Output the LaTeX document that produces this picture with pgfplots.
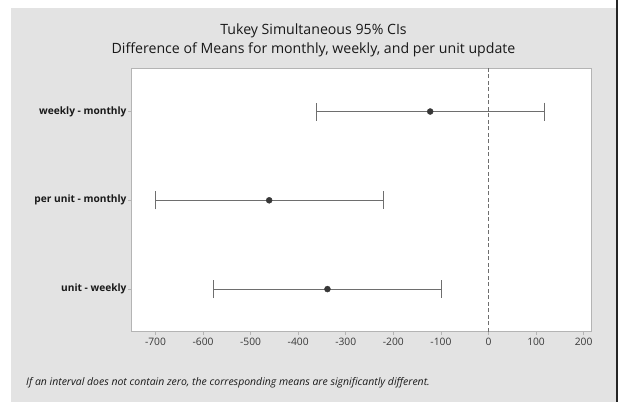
\documentclass[border=0pt]{standalone}
\usepackage{fontspec}
\setmainfont{Open Sans}
\usepackage{pgfplots}
\usepackage{pgfplotstable}
\pgfplotsset{compat=1.18}

\definecolor{panel}{RGB}{227,227,227}
\definecolor{frame}{RGB}{180,180,180}
\definecolor{barcol}{RGB}{110,110,110}
\definecolor{dotcol}{RGB}{55,55,55}
\definecolor{ticktext}{RGB}{55,55,55}
\definecolor{labeltext}{RGB}{25,25,25}

% difference of means with the half-width of each Tukey interval
\pgfplotstableread{
y   diff    half
3   -122.5  239.5
2   -461.0  239.5
1   -338.5  239.5
}\cidata

\begin{document}
\begin{tikzpicture}
  \begin{scope}[x=1bp,y=1bp]
    \path[use as bounding box] (0,0) rectangle (618,-402);
    \fill[white] (0,0) rectangle (618,-402);
    \fill[panel] (11,-8) rectangle (616,-402);
    \draw[black!85, line width=1.6bp] (617.2,0) -- (617.2,-402);

    \node[font=\fontsize{14.2}{16}\selectfont, text=labeltext] at (313.5,-31) {Tukey Simultaneous 95\% CIs};
    \node[font=\fontsize{14.2}{16}\selectfont, text=labeltext] at (313.5,-50) {Difference of Means for monthly, weekly, and per unit update};
    \node[anchor=west, font=\fontsize{10.5}{12}\selectfont\itshape, text=labeltext, inner sep=0] at (26,-383)
      {If an interval does not contain zero, the corresponding means are significantly different.};
  \end{scope}

  \begin{axis}[
    at={(131.7bp,-331.7bp)}, anchor=south west,
    scale only axis, width=460bp, height=263.7bp,
    xmin=-750, xmax=217, ymin=0.52, ymax=3.49,
    axis background/.style={fill=white},
    axis line style={frame, line width=0.8bp},
    xtick={-700,-600,-500,-400,-300,-200,-100,0,100,200},
    xticklabels={-700,-600,-500,-400,-300,-200,-100,0,100,200},
    ytick={1,2,3},
    yticklabels={unit - weekly, per unit - monthly, weekly - monthly},
    tick align=outside, xtick pos=bottom, ytick pos=left,
    major tick length=3.5bp,
    tick style={frame, line width=0.8bp},
    xticklabel style={font=\fontsize{10.3}{11}\selectfont, text=ticktext, inner sep=2.5bp},
    yticklabel style={font=\fontsize{10.2}{11}\selectfont\bfseries, text=labeltext, inner sep=1.5bp},
    clip=false,
  ]
    % reference line at zero difference
    \addplot[barcol, dashed, line width=0.7bp, dash pattern=on 4bp off 2.5bp] coordinates {(0,0.52) (0,3.49)};
    % interval bars with the estimated difference
    \addplot[only marks, mark=*, mark size=3bp, mark options={fill=dotcol, draw=dotcol},
      error bars/.cd, x dir=both, x explicit,
      error bar style={barcol, line width=0.9bp},
      error mark options={barcol, line width=0.9bp, mark size=9bp, rotate=90}]
      table[x=diff, y=y, x error=half] {\cidata};
  \end{axis}
\end{tikzpicture}
\end{document}
